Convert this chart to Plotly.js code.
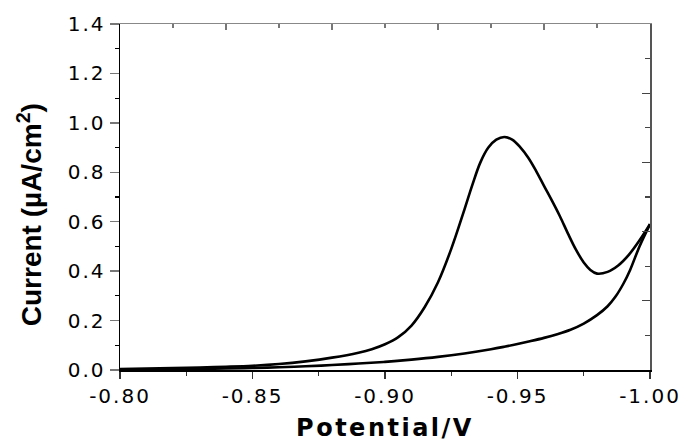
<!DOCTYPE html>
<html>
<head>
<meta charset="utf-8">
<script src="https://cdn.plot.ly/plotly-3.0.1.min.js"></script>
<style>
  html, body { margin: 0; padding: 0; background: #fff; }
  #chart { width: 682px; height: 442px; }
  .xtick text, .ytick text { letter-spacing: 2px; }
  .g-xtitle text { letter-spacing: 2.5px; }
</style>
</head>
<body>
<div id="chart"></div>
<script>
// Forward (cathodic) scan: -0.80 V -> -1.00 V
const forwardPotential = [-0.800, -0.810, -0.820, -0.830, -0.840, -0.850, -0.860, -0.870, -0.880, -0.890, -0.895, -0.900, -0.905, -0.910, -0.915, -0.920, -0.925, -0.930, -0.933, -0.936, -0.939, -0.942, -0.945, -0.948, -0.951, -0.954, -0.957, -0.960, -0.963, -0.966, -0.969, -0.972, -0.975, -0.9775, -0.980, -0.984, -0.988, -0.992, -0.996, -1.000];
const forwardCurrent   = [0.004, 0.006, 0.008, 0.010, 0.013, 0.017, 0.024, 0.035, 0.050, 0.070, 0.084, 0.104, 0.133, 0.180, 0.255, 0.355, 0.490, 0.650, 0.750, 0.840, 0.900, 0.932, 0.943, 0.932, 0.902, 0.860, 0.806, 0.745, 0.685, 0.622, 0.553, 0.488, 0.435, 0.405, 0.390, 0.397, 0.423, 0.466, 0.524, 0.590];

// Reverse scan: -1.00 V -> -0.80 V
const reversePotential = [-1.000, -0.996, -0.9925, -0.990, -0.987, -0.984, -0.980, -0.975, -0.970, -0.965, -0.960, -0.955, -0.950, -0.945, -0.940, -0.930, -0.920, -0.910, -0.900, -0.890, -0.880, -0.870, -0.860, -0.850, -0.840, -0.820, -0.800];
const reverseCurrent   = [0.590, 0.499, 0.405, 0.350, 0.297, 0.258, 0.222, 0.188, 0.163, 0.145, 0.130, 0.117, 0.105, 0.094, 0.084, 0.067, 0.053, 0.042, 0.033, 0.026, 0.020, 0.015, 0.011, 0.008, 0.006, 0.003, 0.002];

// Tick labels
const xTickValues = [-0.80, -0.85, -0.90, -0.95, -1.00];
const xTickLabels = ['-0.80', '-0.85', '-0.90', '-0.95', '-1.00'];
const yTickValues = [0.0, 0.2, 0.4, 0.6, 0.8, 1.0, 1.2, 1.4];
const yTickLabels = ['0.0', '0.2', '0.4', '0.6', '0.8', '1.0', '1.2', '1.4'];

const xTitle = 'Potential/V';
const yTitle = 'Current (µA/cm<sup>2</sup>)';

const lineStyle = { color: '#000', width: 2.6, shape: 'spline', smoothing: 1 };

const traces = [
  { x: forwardPotential, y: forwardCurrent, mode: 'lines', line: lineStyle, showlegend: false, hoverinfo: 'skip' },
  { x: reversePotential, y: reverseCurrent, mode: 'lines', line: lineStyle, showlegend: false, hoverinfo: 'skip' }
];

const tickFont = { family: '"DejaVu Sans", sans-serif', size: 20, color: '#000' };

const layout = {
  width: 682, height: 442,
  margin: { l: 120, r: 32, t: 24, b: 72 },
  paper_bgcolor: '#fff', plot_bgcolor: '#fff',
  showlegend: false,
  xaxis: {
    range: [-0.80, -1.00],
    tickmode: 'array', tickvals: xTickValues, ticktext: xTickLabels,
    ticks: 'outside', ticklen: 7, tickwidth: 1.3, tickcolor: '#333',
    minor: { tickmode: 'linear', tick0: -0.8, dtick: 0.025, ticks: 'outside', ticklen: 4, tickwidth: 1.2, tickcolor: '#333' },
    showline: true, linecolor: '#000', linewidth: 1.5,
    showgrid: false, zeroline: false,
    tickfont: tickFont,
    title: { text: xTitle, font: { family: '"DejaVu Sans", sans-serif', size: 24, weight: 'bold', color: '#000' }, standoff: 14 }
  },
  yaxis: {
    range: [0, 1.4],
    tickmode: 'array', tickvals: yTickValues, ticktext: yTickLabels,
    ticks: 'outside', ticklen: 9, tickwidth: 1.3, tickcolor: '#777',
    minor: { tickmode: 'linear', tick0: 0, dtick: 0.1, ticks: 'outside', ticklen: 4, tickwidth: 1.2, tickcolor: '#000' },
    showline: true, linecolor: '#000', linewidth: 1.5,
    showgrid: false, zeroline: false,
    tickfont: tickFont
  },
  xaxis2: {
    overlaying: 'x', side: 'top', anchor: 'y', matches: 'x',
    range: [-0.80, -1.00],
    tickmode: 'linear', tick0: -0.8, dtick: 0.04,
    ticks: 'inside', ticklen: 6, tickwidth: 1.3, tickcolor: '#777',
    minor: { tickmode: 'linear', tick0: -0.8, dtick: 0.02, ticks: 'inside', ticklen: 3.5, tickwidth: 1.2, tickcolor: '#777' },
    showticklabels: false,
    showline: true, linecolor: '#888', linewidth: 1.5,
    showgrid: false, zeroline: false
  },
  yaxis2: {
    overlaying: 'y', side: 'right', anchor: 'x',
    range: [0, 1.4],
    tickmode: 'linear', tick0: 0, dtick: 0.28,
    ticks: 'inside', ticklen: 8, tickwidth: 1.3, tickcolor: '#444',
    minor: { tickmode: 'linear', tick0: 0, dtick: 0.14, ticks: 'inside', ticklen: 5, tickwidth: 1.2, tickcolor: '#444' },
    showticklabels: false,
    showline: true, linecolor: '#555', linewidth: 1.5,
    showgrid: false, zeroline: false
  },
  annotations: [{
    text: yTitle, textangle: -90,
    xref: 'paper', yref: 'paper', x: -0.17, y: 0.45,
    xanchor: 'center', yanchor: 'middle', showarrow: false,
    font: { family: '"Liberation Sans", Arial, sans-serif', size: 28, weight: 'bold', color: '#000' }
  }]
};

// invisible trace so the mirrored top/right axes are drawn
traces.push({ x: [-0.8], y: [0], xaxis: 'x2', yaxis: 'y2', mode: 'markers', marker: { opacity: 0 }, showlegend: false, hoverinfo: 'skip' });

Plotly.newPlot('chart', traces, layout, { displayModeBar: false, staticPlot: true });
</script>
</body>
</html>
